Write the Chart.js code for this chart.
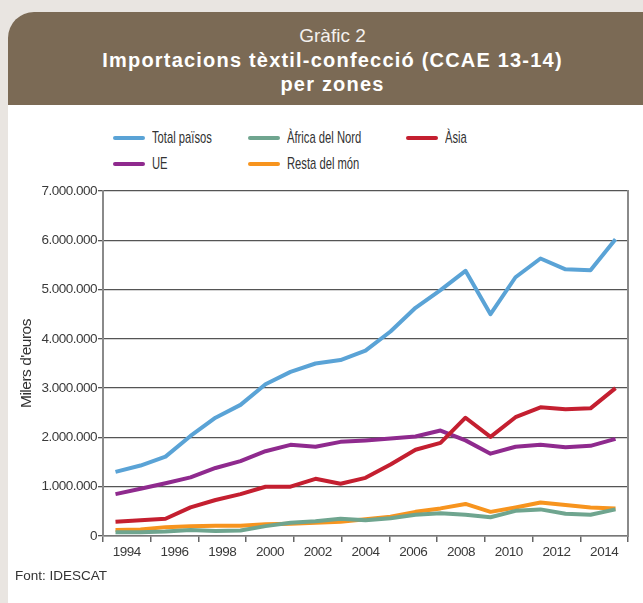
<!DOCTYPE html>
<html>
<head>
<meta charset="utf-8">
<script src="https://cdn.jsdelivr.net/npm/chart.js@4"></script>
<style>
  html, body { margin: 0; padding: 0; }
  body { width: 643px; height: 603px; background: #e9e5e1; position: relative; overflow: hidden; font-family: 'Liberation Sans', Arial, sans-serif; }
  .card { position: absolute; left: 8px; top: 12px; right: 0; bottom: 0; background: #fff; border-top-left-radius: 26px; }
  .header { height: 93px; background: #7b6a55; border-top-left-radius: 26px; color: #fff; text-align: center; padding-top: 12px; padding-left: 14px; box-sizing: border-box; line-height: 24px; }
  .header .num { font-size: 19px; font-weight: 300; color: #f4f1ee; }
  .header .name { font-size: 20px; font-weight: bold; letter-spacing: 1.2px; }
  #legend { position: absolute; left: 0; top: 0; width: 643px; height: 180px; }
  .item { position: absolute; height: 20px; font-size: 17px; color: #333; line-height: 20px; }
  .item span.line { position: absolute; left: 0; top: 8px; width: 32px; height: 4px; border-radius: 2px; }
  .item span.txt { position: absolute; left: 39px; white-space: nowrap; transform: scaleX(0.66); transform-origin: left center; }
  #wrap { position: absolute; left: 0; top: 180px; width: 643px; height: 400px; }
  .source { position: absolute; left: 15px; top: 568px; font-size: 13.5px; color: #333; }
</style>
</head>
<body>
<div class="card">
  <div class="header">
    <div class="num">Gràfic 2</div>
    <div class="name">Importacions tèxtil-confecció (CCAE 13-14)</div>
    <div class="name">per zones</div>
  </div>
</div>
<div id="legend"></div>
<div id="wrap"><canvas id="myChart" width="643" height="400"></canvas></div>
<div class="source">Font: IDESCAT</div>

<script>
const years = ['1994', '1995', '1996', '1997', '1998', '1999', '2000', '2001', '2002', '2003', '2004',
    '2005', '2006', '2007', '2008', '2009', '2010', '2011', '2012', '2013', '2014'];
const xTickLabels = ['1994', '1996', '1998', '2000', '2002', '2004', '2006', '2008', '2010', '2012', '2014'];

const totalPaisos = [1300000, 1430000, 1610000, 2030000, 2400000, 2660000, 3080000, 3330000, 3500000, 3570000, 3760000,
    4150000, 4630000, 4990000, 5380000, 4500000, 5250000, 5630000, 5410000, 5390000, 6020000];
const africaNord = [75000, 75000, 90000, 120000, 100000, 110000, 200000, 270000, 300000, 350000, 320000,
    360000, 430000, 460000, 430000, 380000, 510000, 540000, 450000, 430000, 540000];
const asia = [290000, 320000, 350000, 580000, 730000, 850000, 1000000, 1000000, 1160000, 1060000, 1180000,
    1450000, 1750000, 1890000, 2400000, 2010000, 2410000, 2610000, 2570000, 2590000, 3000000];
const ue = [850000, 960000, 1070000, 1190000, 1380000, 1520000, 1720000, 1850000, 1810000, 1910000, 1940000,
    1980000, 2020000, 2140000, 1940000, 1670000, 1810000, 1850000, 1800000, 1830000, 1970000];
const restaMon = [120000, 130000, 180000, 200000, 210000, 210000, 240000, 250000, 270000, 290000, 340000,
    390000, 490000, 560000, 650000, 490000, 580000, 680000, 630000, 580000, 560000];

const seriesNames = ['Total països', 'Àfrica del Nord', 'Àsia', 'UE', 'Resta del món'];
const seriesColors = ['#5aa3d6', '#6fa58f', '#c41f30', '#8f2a8e', '#f7941e'];
const seriesData = [totalPaisos, africaNord, asia, ue, restaMon];

// legend laid out in columns like the original
const legendCols = [113, 248, 406];
const legendRows = [128, 154];
const legend = document.getElementById('legend');
seriesNames.forEach((name, i) => {
    const el = document.createElement('div');
    el.className = 'item';
    el.style.left = legendCols[i % 3] + 'px';
    el.style.top = legendRows[Math.floor(i / 3)] + 'px';
    el.innerHTML = `<span class="line" style="background:${seriesColors[i]}"></span><span class="txt">${name}</span>`;
    legend.appendChild(el);
});

Chart.defaults.font.family = "'Liberation Sans', Arial, sans-serif";
Chart.defaults.font.size = 13;
Chart.defaults.color = '#3a3a3a';

function formatThousands(v) {
    return String(v).replace(/\B(?=(\d{3})+(?!\d))/g, '.');
}

// tighter text so the tick labels look condensed like the original
const tightText = {
    id: 'tightText',
    beforeDraw(chart) {
        chart.ctx.letterSpacing = '-0.5px';
    }
};

const ctx = document.getElementById('myChart').getContext('2d');
const myChart = new Chart(ctx, {
    type: 'line',
    data: {
        labels: years,
        datasets: seriesNames.map((name, i) => ({
            label: name,
            data: seriesData[i],
            borderColor: seriesColors[i],
            backgroundColor: seriesColors[i],
            borderWidth: 4,
            pointRadius: 0,
            tension: 0,
            borderJoinStyle: 'round',
            xAxisID: 'x',
            yAxisID: 'y'
        }))
    },
    options: {
        responsive: false,
        animation: false,
        devicePixelRatio: 1,
        layout: { padding: { left: 12, right: 15, top: 11, bottom: 14 } },
        plugins: {
            legend: { display: false },
            tooltip: { enabled: false }
        },
        scales: {
            x: {
                type: 'category',
                display: false,
                offset: true
            },
            x2: {
                type: 'category',
                position: 'bottom',
                labels: xTickLabels,
                offset: true,
                grid: {
                    offset: true,
                    drawOnChartArea: false,
                    tickLength: 6,
                    color: '#666',
                    lineWidth: 1.5
                },
                border: { color: '#777', width: 1.5 },
                ticks: { padding: 2, maxRotation: 0, autoSkip: false, font: { size: 13.5 } },
                afterFit: (scale) => { scale.height = 30; }
            },
            y: {
                min: 0,
                max: 7000000,
                ticks: {
                    stepSize: 1000000,
                    padding: 1,
                    font: { size: 13.5 },
                    callback: (v) => formatThousands(v)
                },
                grid: {
                    color: '#555',
                    lineWidth: 1.3,
                    tickLength: 5
                },
                border: { color: '#8a8a8a', width: 2 },
                title: {
                    display: true,
                    text: "Milers d'euros",
                    font: { size: 15.5 },
                    color: '#333',
                    padding: { top: 5, bottom: 0 }
                },
                afterFit: (scale) => { scale.width = 91; }
            },
            y2: {
                position: 'right',
                display: true,
                ticks: { display: false },
                grid: { display: false, drawTicks: false },
                border: { display: true, color: '#8a8a8a', width: 2 },
                afterFit: (scale) => { scale.width = 0; }
            }
        }
    },
    plugins: [tightText]
});
</script>
</body>
</html>
